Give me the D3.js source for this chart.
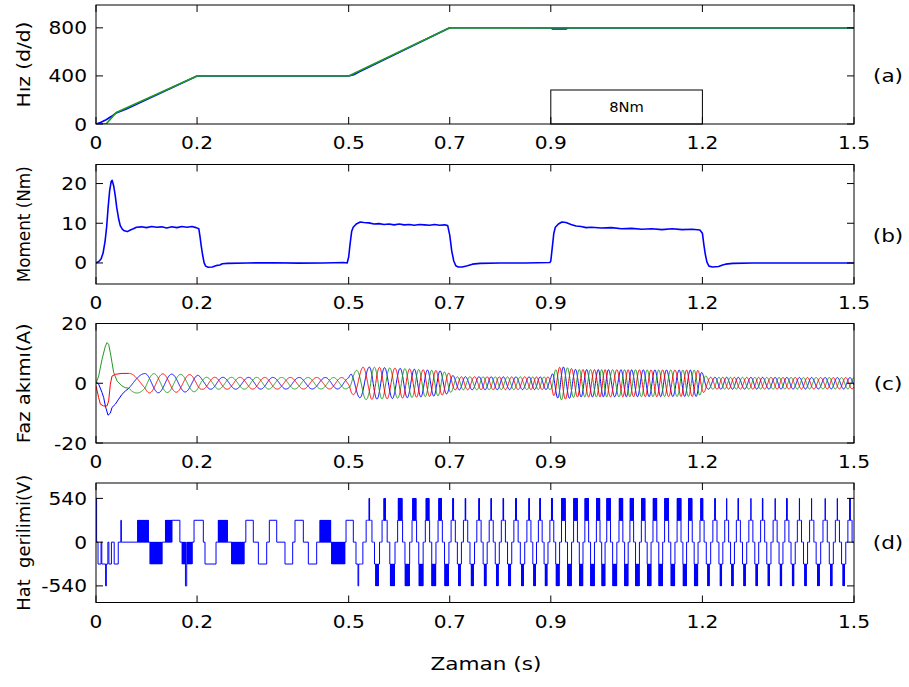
<!DOCTYPE html>
<html><head><meta charset="utf-8">
<script src="https://cdn.jsdelivr.net/npm/d3@7/dist/d3.min.js"></script>
<style>
body{margin:0;background:#fff}
text{font-family:"DejaVu Sans",Verdana,sans-serif;fill:#000}
</style>
</head><body>
<svg id="c" width="909" height="687"></svg>
<script>
// ---------------- DATA ----------------
const xTicks = [0, 0.2, 0.5, 0.7, 0.9, 1.2, 1.5];
const xTickLabels = ["0", "0.2", "0.5", "0.7", "0.9", "1.2", "1.5"];

// (a) speed, reference (green) and measured (blue), rpm
const speedRefT = [0, 0.02, 0.04, 0.2, 0.5, 0.7, 1.5];
const speedRef  = [0, 0, 95, 400, 400, 800, 800];
const speedActT = [0, 0.01, 0.02, 0.03, 0.04, 0.06, 0.2, 0.205, 0.5, 0.51, 0.52, 0.7, 0.705, 0.9, 0.903, 0.93, 0.935, 1.2, 1.5];
const speedAct  = [0, 15, 35, 62, 92, 125, 400, 401, 400, 410, 432, 800, 801, 800, 791, 791, 800, 800, 800];

// (b) electromagnetic torque, Nm
const torqueT = [0,0.005,0.010,0.014,0.018,0.021,0.024,0.027,0.030,0.032,0.035,0.038,0.041,0.045,0.048,0.052,0.056,0.062,0.068,0.074,0.080,
  0.09,0.10,0.11,0.12,0.13,0.14,0.15,0.16,0.17,0.18,0.19,0.198,0.2035,0.206,0.208,0.211,0.214,0.217,0.222,0.23,0.24,0.245,0.25,0.26,0.3,0.35,0.4,0.45,0.49,0.497,
  0.500,0.503,0.506,0.509,0.515,0.523,0.53,0.54,0.55,0.56,0.57,0.58,0.59,0.60,0.61,0.62,0.63,0.64,0.65,0.66,0.67,0.68,0.69,0.696,0.700,0.704,0.708,0.712,0.717,0.725,0.735,0.745,0.76,0.8,0.85,0.898,
  0.900,0.903,0.906,0.909,0.915,0.922,0.93,0.94,0.95,0.96,0.97,0.98,1.0,1.02,1.04,1.06,1.08,1.10,1.12,1.14,1.16,1.18,1.195,1.200,1.203,1.206,1.209,1.213,1.22,1.232,1.24,1.246,1.26,1.3,1.4,1.5];
const torqueV = [0,0.3,1.0,2.5,5.5,9,14,18.2,20.5,20.8,19.4,17,14,11,9.4,8.5,8.1,7.9,8.3,8.6,9.0,
  9.1,8.9,9.2,9.0,9.1,8.8,9.1,8.9,9.2,9.0,9.2,8.9,8.6,6.5,4.5,2,0,-0.8,-1.1,-1.0,-0.6,-0.5,-0.2,-0.1,0,0.05,-0.05,0,0.1,0,
  1.5,5,8,9,9.8,10.3,10.2,10.1,9.8,9.9,9.7,9.8,9.6,9.8,9.6,9.7,9.5,9.7,9.6,9.5,9.7,9.5,9.6,9.4,7,3,0.5,-0.7,-1.0,-1.0,-0.7,-0.3,-0.1,0,0,0.1,
  0.5,4,7.5,9,9.8,10.3,10.2,9.7,9.3,9.2,8.9,9.0,8.8,8.9,8.6,8.7,8.5,8.6,8.4,8.6,8.4,8.5,8.3,7.5,4.5,2,0.2,-0.8,-1.0,-0.9,-0.5,-0.3,-0.1,0,0,0];

// (c) phase currents, A: start-up transient read point by point
const startGreenT = [0,0.0053,0.0119,0.0185,0.0218,0.0251,0.0284,0.0317,0.0350,0.0416,0.0515,0.0581,0.065];
const startGreenV = [0,2.4,8,12.4,13.6,13,10.2,6.9,3.6,0.8,-0.9,-1.5,-1.65];
const startBlueT  = [0,0.0053,0.0119,0.0152,0.0185,0.0238,0.0284,0.0317,0.0383,0.0449,0.0515,0.0581,0.065];
const startBlueV  = [0.5,-0.3,-3.1,-4.8,-7.6,-10.7,-10,-8.1,-7,-5.3,-3.7,-2.6,-1.65];
const startRedT   = [0,0.0053,0.0086,0.0152,0.0218,0.0251,0.0284,0.0317,0.0383,0.0515,0.065];
const startRedV   = [-0.9,-4.8,-7,-7.6,-7.6,-5.9,-0.3,2.4,3,3.3,3.3];
const cycleT = [0.065,0.097,0.150,0.203,0.251,0.302,0.350,0.402,0.454,0.502,0.541,0.571,0.602,0.630,0.656,0.681,0.707,0.731,0.758,0.782,0.806,0.831,0.857,0.879,0.902,0.925,0.949,0.971,0.994,1.014,1.039,1.060,1.083,1.106,1.129,1.154,1.176,1.199,1.225,1.248,1.271,1.296,1.319,1.344,1.367,1.392,1.416,1.443,1.467,1.492];
const cycleN = cycleT.map((t, i) => i === 0 ? -1/3 : i - 1);
// current envelope (peak amplitude), A
const ampT = [0.065,0.12,0.2,0.21,0.5,0.505,0.53,0.6,0.68,0.7,0.71,0.9,0.905,0.92,0.95,1.19,1.2,1.21,1.5];
const ampV = [3.3,3.2,2.8,2.0,1.9,3.5,5.5,5.0,4.2,3.3,2.2,2.1,4.0,5.6,4.6,4.4,3.5,2.0,1.9];

// (d) line voltage, levels in steps of 270 V
const vStep = 270;
const vLowT = [0,0.0012,0.004,0.010,0.0115,0.019,0.0205,0.0235,0.0255,0.0305,0.036,0.044,0.0492,0.0502,0.0825,0.1036,0.107,0.131,0.1375,0.150,0.166,0.1705,0.177,0.1795,0.190,0.194,0.2124,0.2157,0.2375,0.242,0.260,0.2685,0.293,0.2965,0.3113,0.3213,0.3378,0.343,0.3576,0.374,0.3892,0.3938,0.4103,0.4202,0.4367,0.4433,0.4644,0.4664,0.4928,0.4948,0.5092,0.5145,0.5185,0.5198,0.5225];
const vLowL = [2,0,-1,0,-1,-2,-1,0,-1,0, -1,0,1,0,1,0,-1,0,1,1, 0,-1,-2,-1,0,1,0,-1,0,1, 0,-1,0,1,0,-1,0,1,0,-1, 0,1,0,-1,0,1,0,-1,0,1, 0,-1,-2,-1,0];
const vLowC = [0,0,0,0,0,0,0,0,0,0, 0,0,0,0,1,0,1,0,1,0, 0,1,0,1,0,0,0,0,0,1, 0,1,0,0,0,0,0,0,0,0, 0,0,0,0,0,1,0,1,0,0, 0,0,0,0,0];
// high-speed staircase: width (fraction of period) of the +540 and -540 bars
const vWidthT = [0.5225,0.56,0.6,0.69,0.71,0.9,0.92,1.19,1.21,1.5];
const vTopW   = [0.03,0.05,0.25,0.2,0.04,0.05,0.3,0.3,0.03,0.03];
const vBotW   = [0.05,0.2,0.3,0.3,0.15,0.15,0.3,0.3,0.12,0.12];

// ---------------- LAYOUT ----------------
const svg = d3.select("#c");
const x = d3.scaleLinear().domain([0, 1.5]).range([96, 854]);
const L = 96, R = 854;
const panels = [
  {top:5, bottom:124, dom:[0,990], ticks:[0,400,800], lab:["0","400","800"], ylabel:"Hız (d/d)", ylen:86, tag:"(a)", tagY:75},
  {top:164.5, bottom:284, dom:[-5.3,24.8], ticks:[0,10,20], lab:["0","10","20"], ylabel:"Moment (Nm)", ylen:116, tag:"(b)", tagY:235},
  {top:323.5, bottom:443, dom:[-20,20], ticks:[-20,0,20], lab:["-20","0","20"], ylabel:"Faz akımı(A)", ylen:120, tag:"(c)", tagY:383},
  {top:483, bottom:602.5, dom:[-745,730], ticks:[-540,0,540], lab:["-540","0","540"], ylabel:"Hat\u00a0\u00a0gerilimi(V)", ylen:136, tag:"(d)", tagY:542}
];
const defs = svg.append("defs");
panels.forEach((p, i) => {
  p.y = d3.scaleLinear().domain(p.dom).range([p.bottom, p.top]);
  defs.append("clipPath").attr("id", "clip" + i).append("rect")
    .attr("x", L).attr("y", p.top).attr("width", R - L).attr("height", p.bottom - p.top);
  p.g = svg.append("g").attr("clip-path", `url(#clip${i})`);
});

function pts(ts, vs) { return ts.map((t, i) => [t, vs[i]]); }
function drawLine(p, data, color, w, curve) {
  const line = d3.line().x(d => x(d[0])).y(d => p.y(d[1])).curve(curve || d3.curveLinear);
  p.g.append("path").attr("d", line(data)).attr("fill", "none")
    .attr("stroke", color).attr("stroke-width", w).attr("stroke-linejoin", "round");
}
// wide text: anchored at (x, y), stretched horizontally by sx
function wideText(g, str, xx, yy, size, sx, anchor) {
  return g.append("text").attr("transform", `translate(${xx},${yy}) scale(${sx},1)`)
    .attr("text-anchor", anchor || "middle").attr("font-size", size).text(str);
}
const BLUE = "#0000ff", GREEN = "#1f9a1f", RED = "#ff0000";

// (a)
const pa = panels[0];
drawLine(pa, pts(speedActT, speedAct), BLUE, 1.6);
drawLine(pa, pts(speedRefT, speedRef), GREEN, 1.6);
const box = svg.append("g");
box.append("rect").attr("x", x(0.9)).attr("y", 90).attr("width", x(1.2) - x(0.9)).attr("height", pa.bottom - 90)
  .attr("fill", "#fff").attr("stroke", "#000").attr("stroke-width", 1);
wideText(box, "8Nm", (x(0.9) + x(1.2)) / 2, 112, 14, 1.05);

// (b)
drawLine(panels[1], pts(torqueT, torqueV), BLUE, 1.6);

// (c)
const pc = panels[2];
const cyc = d3.scaleLinear().domain(cycleT).range(cycleN);
const amp = d3.scaleLinear().domain(ampT).range(ampV).clamp(true);
const phaseShift = {blue: 0, green: -1/3, red: 1/3};
function current(startT, startV, shift) {
  const out = pts(startT, startV).filter(d => d[0] < 0.065);
  for (let t = 0.065; t <= 1.5; t += 0.0004) {
    out.push([t, amp(t) * Math.cos(2 * Math.PI * (cyc(t) + shift))]);
  }
  return out;
}
drawLine(pc, current(startBlueT, startBlueV, phaseShift.blue), BLUE, 1);
drawLine(pc, current(startGreenT, startGreenV, phaseShift.green), GREEN, 1);
drawLine(pc, current(startRedT, startRedV, phaseShift.red), RED, 1);

// (d)
const pd = panels[3];
const topW = d3.scaleLinear().domain(vWidthT).range(vTopW).clamp(true);
const botW = d3.scaleLinear().domain(vWidthT).range(vBotW).clamp(true);
const vpts = [];
for (let i = 0; i < vLowT.length - 1; i++) {
  const t0 = vLowT[i], t1 = vLowT[i + 1], lv = vLowL[i];
  if (vLowC[i]) {
    let k = 0;
    for (let t = t0; t < t1; t += 0.0004, k++) {
      vpts.push([t, (k % 2 === 0 ? lv : lv - Math.sign(lv)) * vStep]);
    }
  } else vpts.push([t0, lv * vStep]);
}
const hsStart = vLowT[vLowT.length - 1];
for (let t = hsStart, k = 0; t <= 1.5; t += 0.0001, k++) {
  const n = cyc(t);
  const ph = n - Math.floor(n);
  const dp = Math.min(ph, 1 - ph);
  const tog = Math.floor(k / 3) % 2 === 0;
  let lv;
  if (dp < topW(t) / 2) lv = tog ? 2 : 1;
  else if (dp < 1 / 6) lv = 1;
  else if (dp < 1 / 3) lv = 0;
  else if (dp > 0.5 - botW(t) / 2) lv = tog ? -2 : -1;
  else lv = -1;
  vpts.push([t, lv * vStep]);
}
drawLine(pd, vpts, BLUE, 1, d3.curveStepAfter);

// ---------------- AXES / FRAMES ----------------
const TL = 7;
panels.forEach(p => {
  const g = svg.append("g");
  g.append("rect").attr("x", L).attr("y", p.top).attr("width", R - L).attr("height", p.bottom - p.top)
    .attr("fill", "none").attr("stroke", "#000").attr("stroke-width", 1);
  xTicks.forEach((t, i) => {
    const xx = x(t);
    g.append("line").attr("x1", xx).attr("x2", xx).attr("y1", p.bottom).attr("y2", p.bottom - TL).attr("stroke", "#000");
    g.append("line").attr("x1", xx).attr("x2", xx).attr("y1", p.top).attr("y2", p.top + TL).attr("stroke", "#000");
    wideText(g, xTickLabels[i], xx, p.bottom + 25, 18, 1.12);
  });
  p.ticks.forEach((v, i) => {
    const yy = p.y(v);
    g.append("line").attr("x1", L).attr("x2", L + TL).attr("y1", yy).attr("y2", yy).attr("stroke", "#000");
    g.append("line").attr("x1", R).attr("x2", R - TL).attr("y1", yy).attr("y2", yy).attr("stroke", "#000");
    wideText(g, p.lab[i], 87, yy + 6.5, 18, 1.12, "end");
  });
  const cy = (p.top + p.bottom) / 2;
  g.append("text").attr("transform", `translate(30,${cy}) rotate(-90)`).attr("text-anchor", "middle")
    .attr("font-size", 18).attr("textLength", p.ylen).attr("lengthAdjust", "spacingAndGlyphs").text(p.ylabel);
  wideText(g, p.tag, 888, p.tagY + 6.5, 18, 1.2);
});
wideText(svg, "Zaman (s)", 486, 670, 18, 1.2);
</script>
</body></html>
